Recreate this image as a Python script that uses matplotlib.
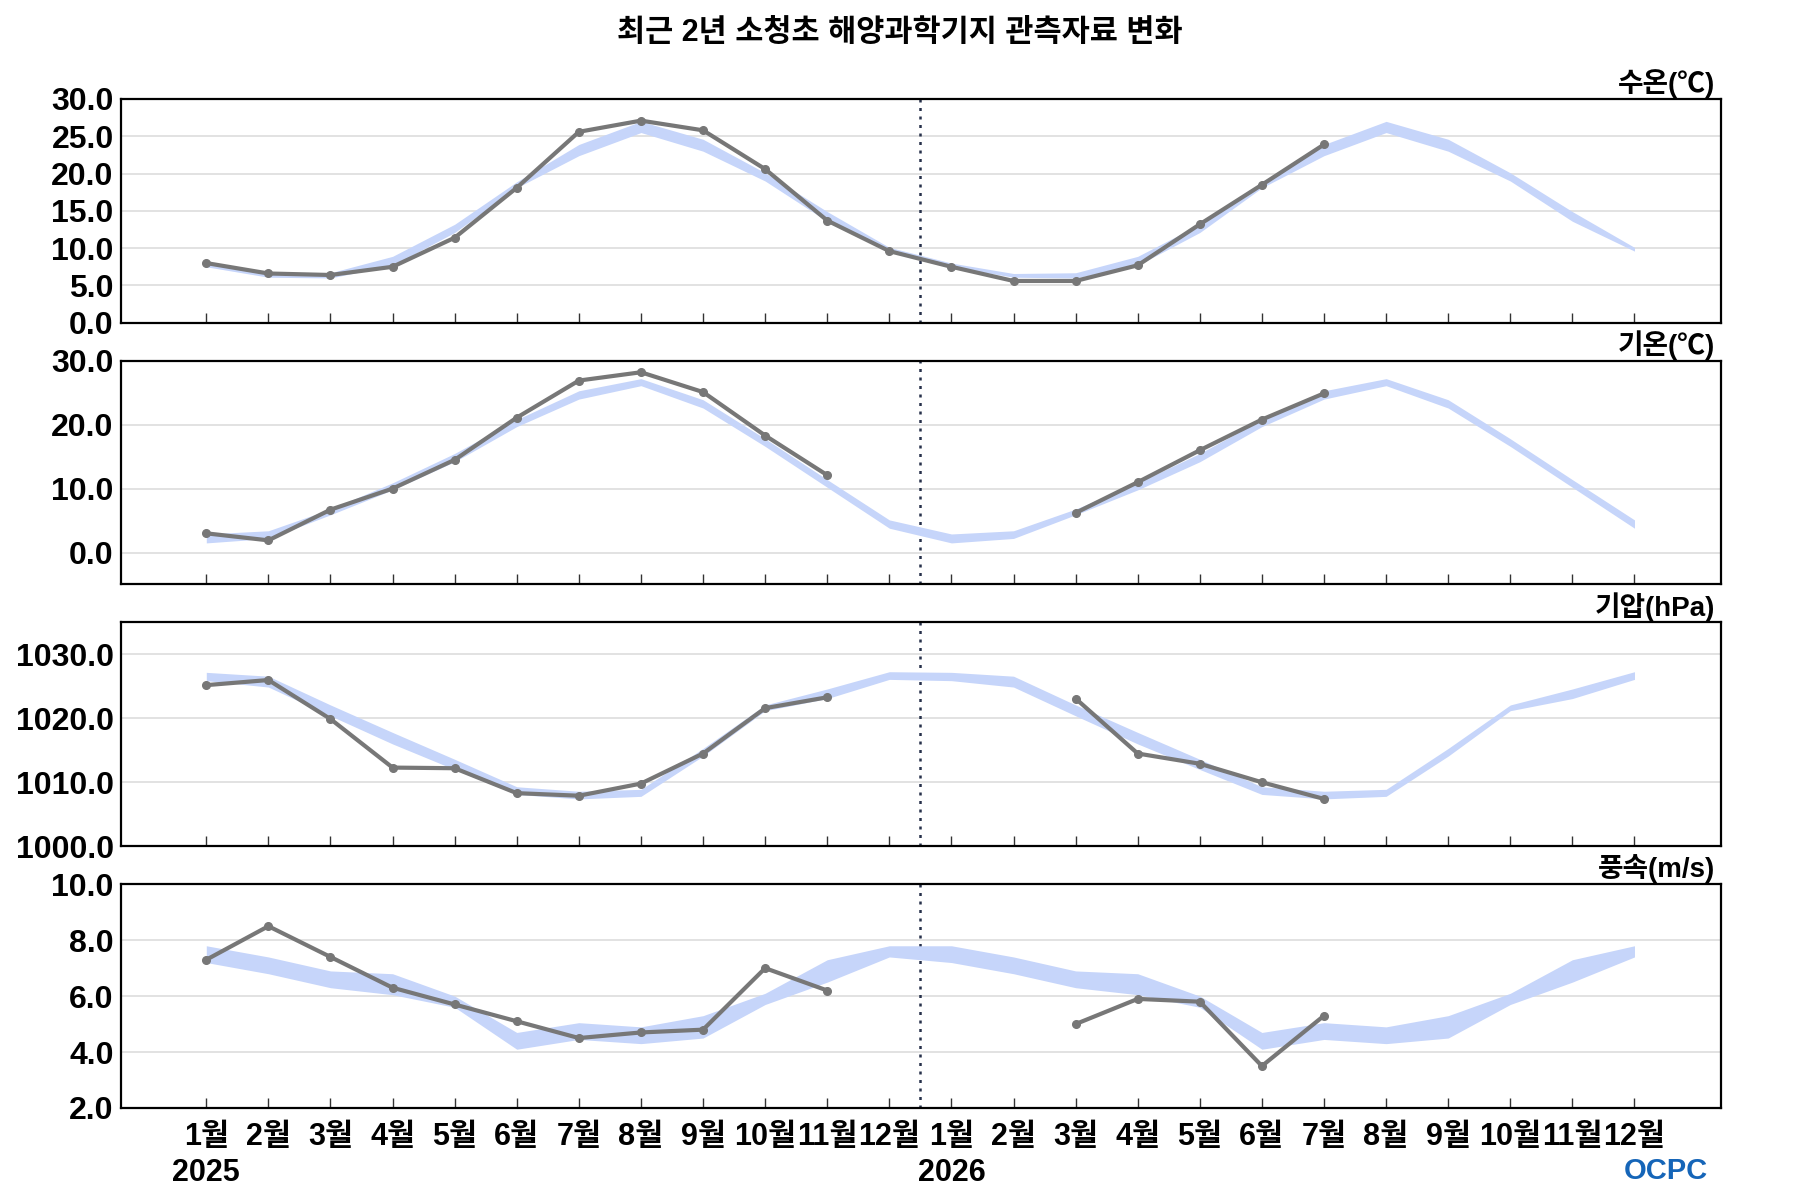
import numpy as np
import matplotlib
matplotlib.use("Agg")
import matplotlib.pyplot as plt

plt.rcParams['font.family'] = ['Liberation Sans', 'Noto Sans CJK KR', 'DejaVu Sans']
plt.rcParams['font.weight'] = 'heavy'
plt.rcParams['axes.unicode_minus'] = False

# 24 months: 2025-01 .. 2026-12
months = [f"{m}월" for m in range(1, 13)] * 2
years = {0: "2025", 12: "2026"}
nan = np.nan

# observed values (nan = no data)
sst_obs = [8.0, 6.6, 6.4, 7.5, 11.4, 18.1, 25.6, 27.1, 25.8, 20.6, 13.7, 9.6,
           7.5, 5.6, 5.6, 7.7, 13.2, 18.5, 23.9, nan, nan, nan, nan, nan]
air_obs = [3.0, 1.9, 6.7, 10.0, 14.5, 21.1, 26.9, 28.2, 25.1, 18.3, 12.1, nan,
           nan, nan, 6.2, 11.0, 16.0, 20.8, 24.9, nan, nan, nan, nan, nan]
pres_obs = [1025.2, 1026.0, 1019.9, 1012.3, 1012.2, 1008.3, 1007.9, 1009.8, 1014.5, 1021.6, 1023.3, nan,
            nan, nan, 1023.1, 1014.5, 1012.9, 1010.0, 1007.4, nan, nan, nan, nan, nan]
wind_obs = [7.3, 8.5, 7.4, 6.3, 5.7, 5.1, 4.5, 4.7, 4.8, 7.0, 6.2, nan,
            nan, nan, 5.0, 5.9, 5.8, 3.5, 5.3, nan, nan, nan, nan, nan]

# climatological range (one year, repeated for both years)
sst_lo = [7.5, 6.1, 6.0, 7.7, 12.1, 18.1, 22.4, 25.5, 23.0, 19.0, 13.6, 9.6]
sst_hi = [8.0, 6.6, 6.7, 8.9, 13.2, 18.9, 23.9, 27.0, 24.6, 20.1, 14.9, 10.1]
air_lo = [1.5, 2.2, 5.9, 9.8, 14.2, 19.7, 24.0, 26.1, 22.6, 16.6, 10.2, 3.8]
air_hi = [2.9, 3.4, 6.8, 10.9, 15.5, 20.8, 25.3, 27.2, 23.9, 17.8, 11.4, 5.1]
pres_lo = [1025.9, 1024.9, 1020.4, 1016.0, 1012.0, 1008.1, 1007.4, 1007.8, 1014.1, 1021.2, 1023.1, 1026.1]
pres_hi = [1027.2, 1026.6, 1022.1, 1017.8, 1013.6, 1009.3, 1008.6, 1008.9, 1015.3, 1022.1, 1024.6, 1027.3]
wind_lo = [7.2, 6.8, 6.3, 6.05, 5.6, 4.1, 4.45, 4.3, 4.5, 5.7, 6.5, 7.4]
wind_hi = [7.8, 7.4, 6.9, 6.8, 6.0, 4.7, 5.05, 4.9, 5.3, 6.1, 7.3, 7.8]

panels = [
    ("수온(℃)", sst_obs, sst_lo, sst_hi, (0, 30), np.arange(0, 31, 5)),
    ("기온(℃)", air_obs, air_lo, air_hi, (-5, 30), np.arange(0, 31, 10)),
    ("기압(hPa)", pres_obs, pres_lo, pres_hi, (1000, 1035), np.arange(1000, 1031, 10)),
    ("풍속(m/s)", wind_obs, wind_lo, wind_hi, (2, 10), np.arange(2, 11, 2)),
]

x = np.arange(24)
fig, axes = plt.subplots(4, 1, figsize=(18, 12), dpi=100, sharex=True)
fig.subplots_adjust(left=0.067, right=0.956, top=0.9175, bottom=0.0767, hspace=0.17)

for ax, (label, obs, lo, hi, ylim, yt) in zip(axes, panels):
    ax.fill_between(x, lo * 2, hi * 2, color='#c6d5fa', lw=0, zorder=2)
    ax.plot(x, obs, color='#777777', lw=3.0, marker='o', ms=5.5, zorder=3)
    ax.axvline(11.5, color='#26304a', ls=(0, (1.2, 2.2)), lw=1.8, zorder=1)
    ax.set_ylim(*ylim)
    ax.set_yticks(yt)
    ax.set_yticklabels([f"{v:.1f}" for v in yt], fontsize=23, fontweight='bold')
    ax.grid(axis='y', color='#dddddd', lw=1.2, zorder=0)
    ax.set_axisbelow(True)
    ax.tick_params(axis='y', length=0, pad=5)
    ax.tick_params(axis='x', direction='in', length=7, width=1, color='#333333')
    for s in ax.spines.values():
        s.set_linewidth(1.6)
    ax.text(0.9965, 1.004, label, transform=ax.transAxes, ha='right', va='bottom',
            fontsize=20, fontweight='heavy')

ax = axes[-1]
ax.set_xlim(-1.38, 24.39)
ax.set_xticks(x)
ax.set_xticklabels([m + ("\n" + years[i] if i in years else "") for i, m in enumerate(months)],
                   fontsize=22, fontweight='heavy', linespacing=1.25)
ax.tick_params(axis='x', pad=10)
for t in ax.get_xticklabels():
    t.set_verticalalignment('top')

fig.suptitle("최근 2년 소청초 해양과학기지 관측자료 변화", y=0.985, fontsize=22, fontweight='heavy')
fig.text(0.949, 0.024, "OCPC", ha='right', va='center', fontsize=21, fontweight='bold', color='#1565b8')

fig.savefig("out.png", dpi=100)
